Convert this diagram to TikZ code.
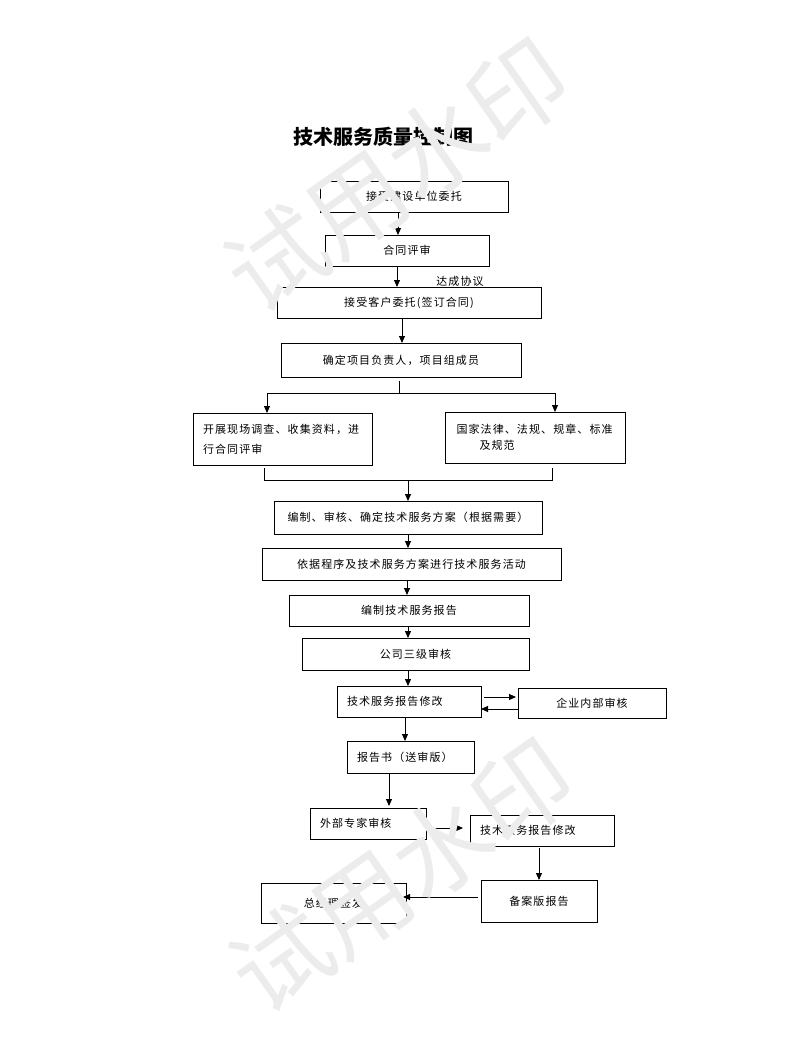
\documentclass[tikz,border=0pt]{standalone}
\usepackage{fontspec}
\setmainfont{Noto Sans CJK SC}
\newfontfamily\boxfont[LetterSpace=10]{Noto Sans CJK SC}
\usetikzlibrary{arrows.meta}
\tikzset{%
  procbox/.style={draw, rectangle, line width=0.9pt, inner sep=0pt, outer sep=0pt,
    font=\boxfont\fontsize{11}{13}\selectfont},% one step of the flow
  leftbox/.style={procbox, align=left, inner xsep=10pt},% step with left text
  flow/.style={-{Triangle[length=7pt,width=6pt]}, line width=0.9pt},% arrow
  link/.style={line width=0.9pt},% plain joining line
  watermark/.style={text=gray!15, font=\fontsize{98}{98}\selectfont, rotate=35}
}
\begin{document}
\begin{tikzpicture}[x=1pt, y=-1pt]
\useasboundingbox (0,0) rectangle (793,1052);

\node[font=\bfseries\fontsize{20}{24}\selectfont] (title) at (383,137) {技术服务质量控制图};

\node[procbox, minimum width=188pt, minimum height=31pt] (n1) at (414,196.5) {接受建设单位委托};
\node[procbox, minimum width=164pt, minimum height=31pt] (n2) at (407,250.5) {合同评审};
\node[procbox, minimum width=264pt, minimum height=31pt] (n3) at (409,302.5) {接受客户委托(签订合同)};
\node[procbox, minimum width=240pt, minimum height=34pt] (n4) at (401,360) {确定项目负责人，项目组成员};
\node[leftbox, text width=159pt, minimum height=52pt,
  font=\boxfont\fontsize{11}{20}\selectfont] (n5) at (282.5,439) {开展现场调查、收集资料，进\\行合同评审};
\node[leftbox, inner xsep=11.5pt, text width=157pt, minimum height=51pt,
  font=\boxfont\fontsize{11}{16}\selectfont] (n6) at (535,437.5) {国家法律、法规、规章、标准\\\hspace*{23pt}及规范};
\node[procbox, minimum width=268pt, minimum height=33pt] (n7) at (408,517.5) {编制、审核、确定技术服务方案（根据需要）};
\node[procbox, minimum width=299pt, minimum height=32pt] (n8) at (411.5,564) {依据程序及技术服务方案进行技术服务活动};
\node[procbox, minimum width=240pt, minimum height=31pt] (n9) at (409,610.5) {编制技术服务报告};
\node[procbox, minimum width=227pt, minimum height=32pt] (n10) at (415.5,654) {公司三级审核};
\node[leftbox, text width=124pt, minimum height=31pt] (n11) at (409,701.5) {技术服务报告修改};
\node[procbox, minimum width=148pt, minimum height=30pt] (n12) at (592,703) {企业内部审核};
\node[leftbox, text width=107pt, minimum height=32pt] (n13) at (410.5,757) {报告书（送审版）};
\node[leftbox, text width=96pt, minimum height=31pt] (n14) at (368,823.5) {外部专家审核};
\node[leftbox, text width=124pt, minimum height=31pt] (n15) at (542,830.5) {技术服务报告修改};
\node[procbox, minimum width=116pt, minimum height=42pt] (n16) at (539,901) {备案版报告};
\node[procbox, minimum width=145pt, minimum height=40pt] (n17) at (333.5,903) {总经理签发};

\node[font=\boxfont\fontsize{11}{13}\selectfont] (agree) at (460,281) {达成协议};

% junctions of the two branches
\coordinate (split) at (399,393);
\coordinate (merge) at (408,480);

\draw[flow] ([xshift=-16pt]n1.south) -- ([xshift=-9pt]n2.north);
\draw[flow] ([xshift=-10pt]n2.south) -- ([xshift=-12pt]n3.north);
\draw[flow] ([xshift=-7pt]n3.south) -- ([xshift=1pt]n4.north);
\draw[link] ([xshift=-2pt,yshift=-4pt]n4.south) -- (split);
\draw[flow] (split) -| ([xshift=-15.5pt]n5.north);
\draw[flow] (split) -| ([xshift=20pt]n6.north);
\draw[link] ([xshift=-18.5pt,yshift=-3pt]n5.south) |- (merge);
\draw[link] ([xshift=17pt,yshift=-5pt]n6.south) |- (merge);
\draw[flow] (merge) -- (n7.north);
\draw[flow] (n7.south) -- (n7.south |- n8.north);
\draw[flow] ([xshift=-4.5pt]n8.south) -- ([xshift=-4.5pt]n8.south |- n9.north);
\draw[flow] ([xshift=-1pt]n9.south) -- ([xshift=-1pt]n9.south |- n10.north);
\draw[flow] ([xshift=-7.5pt]n10.south) -- ([xshift=-7.5pt]n10.south |- n11.north);
\draw[flow] ([xshift=3pt,yshift=4.5pt]n11.east) -- ([xshift=-2pt,yshift=6pt]n12.west);
\draw[flow] ([yshift=-6pt]n12.west) -- ([yshift=-7.5pt]n11.east);
\draw[flow] ([xshift=-4pt]n11.south) -- ([xshift=-4pt]n11.south |- n13.north);
\draw[flow] ([xshift=-21.5pt]n13.south) -- ([xshift=-21.5pt,yshift=2pt]n13.south |- n14.north);
\draw[flow] ([xshift=8pt,yshift=-4.5pt]n14.east) -- ([xshift=-7pt,yshift=2.5pt]n15.west);
\draw[flow] ([xshift=-3pt,yshift=-2pt]n15.south) -- ([xshift=-3pt]n15.south |- n16.north);
\draw[flow] ([xshift=-3pt,yshift=4pt]n16.west) -- ([xshift=-3pt,yshift=4pt]n16.west -| n17.east);

% trial watermark over the chart
\node[watermark] (wm1) at (397,175) {试用水印};
\node[watermark] (wm2) at (402,875) {试用水印};

\end{tikzpicture}
\end{document}
